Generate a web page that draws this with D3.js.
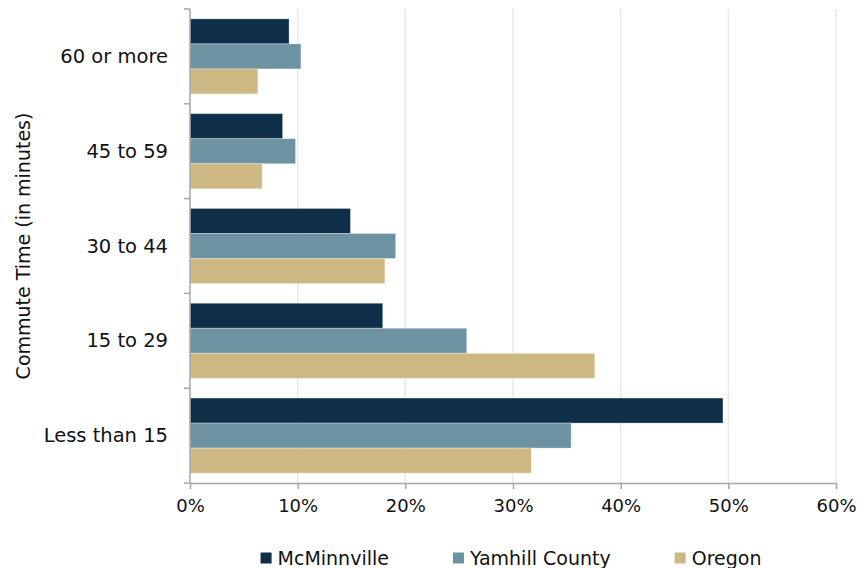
<!DOCTYPE html>
<html>
<head>
<meta charset="utf-8">
<script src="https://cdn.jsdelivr.net/npm/d3@7/dist/d3.min.js"></script>
<style>
  html, body { margin: 0; padding: 0; background: #ffffff; }
  svg { display: block; font-family: "DejaVu Sans", sans-serif; }
</style>
</head>
<body>
<svg id="chart" width="868" height="568"></svg>
<script>
// ---- data ----
const categories = ["60 or more", "45 to 59", "30 to 44", "15 to 29", "Less than 15"];
const seriesNames = ["McMinnville", "Yamhill County", "Oregon"];
const mcminnville = [9.2, 8.6, 14.9, 17.9, 49.5];
const yamhillCounty = [10.3, 9.8, 19.1, 25.7, 35.4];
const oregon = [6.3, 6.7, 18.1, 37.6, 31.7];
const xTicks = [0, 10, 20, 30, 40, 50, 60];
const colors = ["#0f2f48", "#6d92a1", "#cdb883"];
const yTitle = "Commute Time (in minutes)";

const seriesValues = [mcminnville, yamhillCounty, oregon];

// ---- layout ----
const W = 868, H = 568;
const margin = { top: 9, right: 32, bottom: 85, left: 190 };
const svg = d3.select("#chart");
const g = svg.append("g").attr("transform", `translate(${margin.left},${margin.top})`);
const iw = W - margin.left - margin.right;
const ih = H - margin.top - margin.bottom;

const x = d3.scaleLinear().domain([0, 60]).range([0, iw]);
const y = d3.scaleBand().domain(categories).range([0, ih]).paddingInner(0.208).paddingOuter(0.104);
const ys = d3.scaleBand().domain(seriesNames).range([0, y.bandwidth()]).padding(0);

// gridlines
g.append("g").selectAll("line").data(xTicks.filter(d => d > 0)).join("line")
  .attr("x1", d => x(d)).attr("x2", d => x(d))
  .attr("y1", 0).attr("y2", ih)
  .attr("stroke", "#e8e8e8").attr("stroke-width", 1.5);

// bars
const groups = g.append("g").selectAll("g").data(categories).join("g")
  .attr("transform", d => `translate(0,${y(d)})`);
groups.selectAll("rect")
  .data((c, i) => seriesNames.map((s, j) => ({ s, j, v: seriesValues[j][i] })))
  .join("rect")
  .attr("x", x(0))
  .attr("y", d => ys(d.s))
  .attr("width", d => x(d.v) - x(0))
  .attr("height", ys.bandwidth())
  .attr("fill", d => colors[d.j])
  .attr("stroke", "#ffffff").attr("stroke-opacity", 0.3).attr("stroke-width", 1);

const axisColor = "#a6a6a6";

// x axis
const xAxis = g.append("g").attr("transform", `translate(0,${ih})`)
  .call(d3.axisBottom(x).tickValues(xTicks).tickFormat(d => d + "%").tickSizeInner(6).tickSizeOuter(0).tickPadding(10));
xAxis.select(".domain").attr("stroke", axisColor).attr("stroke-width", 1.5);
xAxis.selectAll(".tick line").attr("stroke", axisColor).attr("stroke-width", 1.5);
xAxis.selectAll("text").attr("font-size", 18).attr("fill", "#111").attr("font-family", "DejaVu Sans");

// y axis: line + ticks at category boundaries
const yAxisG = g.append("g");
yAxisG.append("line").attr("x1", 0).attr("x2", 0).attr("y1", 0).attr("y2", ih)
  .attr("stroke", axisColor).attr("stroke-width", 1.5);
const boundaries = d3.range(categories.length + 1).map(i => i * y.step());
yAxisG.selectAll("line.tk").data(boundaries).join("line").attr("class", "tk")
  .attr("x1", -6).attr("x2", 0).attr("y1", d => d).attr("y2", d => d)
  .attr("stroke", axisColor).attr("stroke-width", 1.5);
yAxisG.selectAll("text").data(categories).join("text")
  .attr("x", -22).attr("y", d => y(d) + y.bandwidth() / 2)
  .attr("text-anchor", "end").attr("dominant-baseline", "central")
  .attr("font-size", 19.5).attr("fill", "#111")
  .text(d => d);

// y title
svg.append("text")
  .attr("transform", `translate(23,${margin.top + ih / 2}) rotate(-90)`)
  .attr("text-anchor", "middle").attr("dominant-baseline", "central")
  .attr("font-size", 19).attr("fill", "#111")
  .text(yTitle);

// legend
const legend = svg.append("g");
const items = legend.selectAll("g").data(seriesNames).join("g");
items.append("rect").attr("width", 11).attr("height", 11).attr("y", -5.5)
  .attr("fill", (d, i) => colors[i]);
items.append("text").attr("x", 17).attr("y", 0).attr("dominant-baseline", "central")
  .attr("font-size", 19).attr("fill", "#111").text(d => d);
const gap = 64;
let cx = 0;
const widths = [];
items.each(function () { widths.push(this.getBBox().width); });
const total = d3.sum(widths) + gap * (widths.length - 1);
const start = 511 - total / 2;
items.attr("transform", (d, i) => {
  const tx = start + d3.sum(widths.slice(0, i)) + gap * i;
  return `translate(${tx},558)`;
});
</script>
</body>
</html>
